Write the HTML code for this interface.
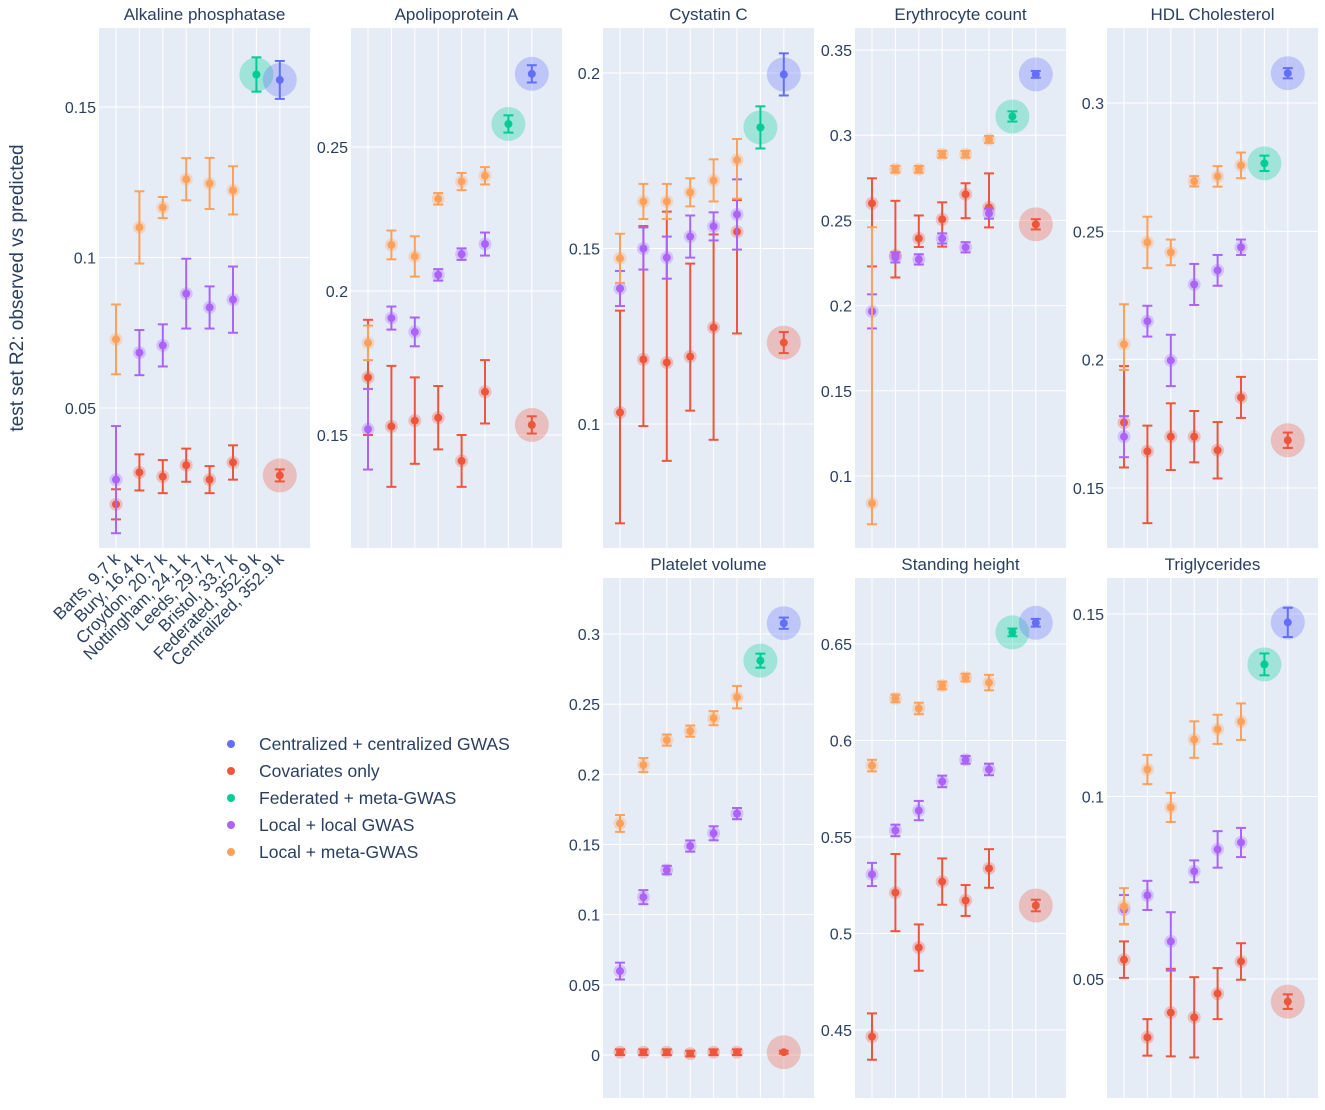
<!DOCTYPE html>
<html><head><meta charset="utf-8">
<style>
body{margin:0;background:#fff;font-family:"Liberation Sans",sans-serif;}
svg text{font-family:"Liberation Sans",sans-serif;fill:#2a3f5f;}
</style></head>
<body>
<svg id="chart" width="1325" height="1105" viewBox="0 0 1325 1105" xmlns="http://www.w3.org/2000/svg">
<text transform="translate(23,288) rotate(-90)" text-anchor="middle" font-size="19">test set R2: observed vs predicted</text>
<g id="panels"></g>
<g id="legend"></g>
</svg>
<script>
const categories=["Barts, 9.7 k","Bury, 16.4 k","Croydon, 20.7 k","Nottingham, 24.1 k","Leeds, 29.7 k","Bristol, 33.7 k","Federated, 352.9 k","Centralized, 352.9 k"];
const seriesNames=["Centralized + centralized GWAS","Covariates only","Federated + meta-GWAS","Local + local GWAS","Local + meta-GWAS"];
const panelTitles=["Alkaline phosphatase","Apolipoprotein A","Cystatin C","Erythrocyte count","HDL Cholesterol","Platelet volume","Standing height","Triglycerides"];
const tickValues=[[0.05,0.1,0.15],[0.15,0.2,0.25],[0.1,0.15,0.2],[0.1,0.15,0.2,0.25,0.3,0.35],[0.15,0.2,0.25,0.3],[0,0.05,0.1,0.15,0.2,0.25,0.3],[0.45,0.5,0.55,0.6,0.65],[0.05,0.1,0.15]];
const tickLabels=[["0.05","0.1","0.15"],["0.15","0.2","0.25"],["0.1","0.15","0.2"],["0.1","0.15","0.2","0.25","0.3","0.35"],["0.15","0.2","0.25","0.3"],["0","0.05","0.1","0.15","0.2","0.25","0.3"],["0.45","0.5","0.55","0.6","0.65"],["0.05","0.1","0.15"]];
// errors: number = symmetric, [up, down] = asymmetric
const orangeVals=[[0.0728,0.110,0.1166,0.126,0.1246,0.1223],[0.182,0.216,0.212,0.232,0.238,0.240],[0.1472,0.1634,0.1634,0.166,0.1694,0.1752],[0.084,0.280,0.280,0.2888,0.2888,0.2975],[0.206,0.2457,0.2418,0.2695,0.2714,0.2757],[0.165,0.2066,0.2244,0.2308,0.240,0.255],[0.587,0.6218,0.6166,0.6285,0.6326,0.630],[0.0699,0.1074,0.097,0.1156,0.1184,0.1205]];
const orangeErr=[[0.0116,0.012,0.0035,0.007,0.0085,0.008],[0.006,0.005,0.007,0.002,0.003,0.003],[0.007,0.005,0.005,0.004,0.006,[0.006,0.011]],[[0.162,0.0123],0.002,0.002,0.002,0.002,0.002],[[0.0156,0.01],0.01,0.005,0.002,0.004,0.005],[0.006,0.005,0.004,0.004,0.005,0.008],[0.003,0.002,0.003,0.002,0.002,0.004],[0.005,0.004,0.004,0.005,0.004,0.005]];
const purpleVals=[[0.0262,0.0684,0.0708,0.088,0.0834,0.086],[0.152,0.1906,0.1858,0.2056,0.2128,0.2163],[0.1386,0.150,0.1474,0.1534,0.1563,0.1597],[0.1966,0.2283,0.2271,0.2394,0.2342,0.254],[0.170,0.215,0.1997,0.2293,0.2348,0.2438],[0.0598,0.1125,0.1318,0.1489,0.158,0.172],[0.5306,0.5534,0.5637,0.5788,0.590,0.585],[0.069,0.0729,0.0603,0.0795,0.0855,0.0874]];
const purpleErr=[[0.0178,0.0075,0.007,0.0116,0.007,0.011],[0.014,0.004,0.005,0.002,0.002,0.004],[0.005,0.006,0.006,0.006,0.004,0.010],[0.01,0.003,0.003,0.003,0.003,0.003],[0.008,0.006,0.01,0.008,0.006,0.003],[0.006,0.005,0.003,0.004,0.005,0.004],[0.006,0.003,0.005,0.003,0.002,0.003],[0.004,0.004,0.008,0.003,0.005,0.004]];
const redVals=[[0.018,0.0286,0.0272,0.031,0.0262,0.0319,0.0276],[0.170,0.153,0.155,0.156,0.141,0.165,0.1535],[0.1033,0.1184,0.1175,0.1192,0.1275,0.1548,0.1232],[0.260,0.2295,0.2394,0.2506,0.2653,0.2576,0.2477],[0.1755,0.1643,0.170,0.170,0.1647,0.1853,0.1686],[0.002,0.002,0.002,0.001,0.002,0.002,0.002],[0.4466,0.5212,0.4927,0.5269,0.5171,0.5337,0.5145],[0.0553,0.034,0.0408,0.0395,0.046,0.0548,0.0438]];
const redErr=[[0.005,0.006,0.0055,0.0055,0.0045,0.0057,0.002],[0.02,0.021,0.015,0.011,0.009,0.011,0.003],[[0.029,0.0316],[0.038,0.019],[0.043,0.028],[0.0265,0.0154],[0.0265,0.032],[0.009,0.029],0.003],[[0.0147,0.037],[0.032,0.013],[0.0135,0.005],[0.01,0.016],[0.0065,0.014],[0.02,0.0117],0.003],[[0.022,0.0175],[0.01,0.028],0.013,0.01,0.011,0.008,0.003],[0.002,0.002,0.002,0.002,0.002,0.002,0.001],[0.012,0.02,0.012,0.012,0.008,0.01,0.003],[0.005,0.005,0.012,0.011,0.007,0.005,0.002]];
const greenVals=[0.1608,0.258,0.1845,0.311,0.2765,0.281,0.656,0.1362];
const greenErr=[0.0057,0.003,0.006,0.003,0.003,0.005,0.002,0.003];
const blueVals=[0.159,0.2754,0.1996,0.3357,0.3116,0.3077,0.661,0.1477];
const blueErr=[0.0063,0.003,0.006,0.002,0.002,0.004,0.002,0.004];

const COL={blue:"#636EFA",red:"#EF553B",green:"#00CC96",purple:"#AB63FA",orange:"#FFA15A"};
const NS="http://www.w3.org/2000/svg";
const panelGeom=[[99,28,0.15,107,0.05,408],[351,28,0.25,147,0.15,435],[603,28,0.2,73,0.1,424],[855,28,0.35,50,0.1,476],[1107,28,0.3,103,0.15,488],[603,578,0.3,634,0,1055],[855,578,0.65,644,0.45,1030],[1107,578,0.15,614,0.05,979]];
const PW=211,PH=520;
function mk(tag,attrs,parent){const e=document.createElementNS(NS,tag);for(const k in attrs)e.setAttribute(k,attrs[k]);parent.appendChild(e);return e;}
const root=document.getElementById('panels');
panelGeom.forEach((g,p)=>{
  const [L,T,v1,p1,v2,p2]=g;
  const ys=v=>p1+(v-v1)*(p2-p1)/(v2-v1);
  const xs=i=>L+17+i*23.4;
  const pg=mk('g',{},root);
  
  
  const bg=mk('rect',{x:L,y:T,width:PW,height:PH,fill:'#E5ECF6'},pg);
  
  
  const t=mk('text',{x:L+PW/2,y:T-8,'text-anchor':'middle','font-size':'17'},pg);
  t.textContent=panelTitles[p];
  
  
  tickValues[p].forEach((tv,k)=>{
    const y=ys(tv);
    mk('line',{x1:L,x2:L+PW,y1:y,y2:y,stroke:'#fff','stroke-width':1},pg);
    const tl=mk('text',{x:L-3,y:y+6,'text-anchor':'end','font-size':'16'},pg);
    tl.textContent=tickLabels[p][k];
    
    
  });
  for(let i=0;i<8;i++){mk('line',{x1:xs(i),x2:xs(i),y1:T,y2:T+PH,stroke:'#fff','stroke-width':1},pg);}
  const clipId='clip'+p;
  const cp=mk('clipPath',{id:clipId},pg);mk('rect',{x:L,y:T,width:PW,height:PH},cp);
  const mg=mk('g',{'clip-path':'url(#'+clipId+')'},pg);
  function point(i,v,e,col,big,name){
    const x=xs(i),y=ys(v);
    const up=Array.isArray(e)?e[0]:e, dn=Array.isArray(e)?e[1]:e;
    const g2=mk('g',{},mg);
    
    
    mk('circle',{cx:x,cy:y,r:big?17:6.5,fill:col,opacity:0.3},g2);
    const yt=ys(v+up),yb=ys(v-dn);
    mk('line',{x1:x,x2:x,y1:yt,y2:yb,stroke:col,'stroke-width':2},g2);
    mk('line',{x1:x-5,x2:x+5,y1:yt,y2:yt,stroke:col,'stroke-width':2},g2);
    mk('line',{x1:x-5,x2:x+5,y1:yb,y2:yb,stroke:col,'stroke-width':2},g2);
    mk('circle',{cx:x,cy:y,r:4,fill:col},g2);
  }
  for(let i=0;i<6;i++){
    point(i,redVals[p][i],redErr[p][i],COL.red,false,'covariates-point');
    point(i,purpleVals[p][i],purpleErr[p][i],COL.purple,false,'local-gwas-point');
    point(i,orangeVals[p][i],orangeErr[p][i],COL.orange,false,'meta-gwas-point');
  }
  point(7,redVals[p][6],redErr[p][6],COL.red,true,'covariates-centralized-point');
  point(6,greenVals[p],greenErr[p],COL.green,true,'federated-point');
  point(7,blueVals[p],blueErr[p],COL.blue,true,'centralized-point');
  if(p===0){
    categories.forEach((c,i)=>{
      const tx=mk('text',{x:0,y:0,'text-anchor':'end','font-size':'17',transform:'translate('+(xs(i)+5)+','+(T+PH+12)+') rotate(-45)'},pg);
      tx.textContent=c;
      
      
    });
  }
});
const lg=document.getElementById('legend');
const lcols=[COL.blue,COL.red,COL.green,COL.purple,COL.orange];
seriesNames.forEach((n,i)=>{
  const y=744+i*27;
  const g=mk('g',{},lg);
  
  
  mk('circle',{cx:231,cy:y,r:4,fill:lcols[i]},g);
  const t=mk('text',{x:259,y:y+6,'font-size':'17.5'},g);
  t.textContent=n;
});
</script>
</body></html>
